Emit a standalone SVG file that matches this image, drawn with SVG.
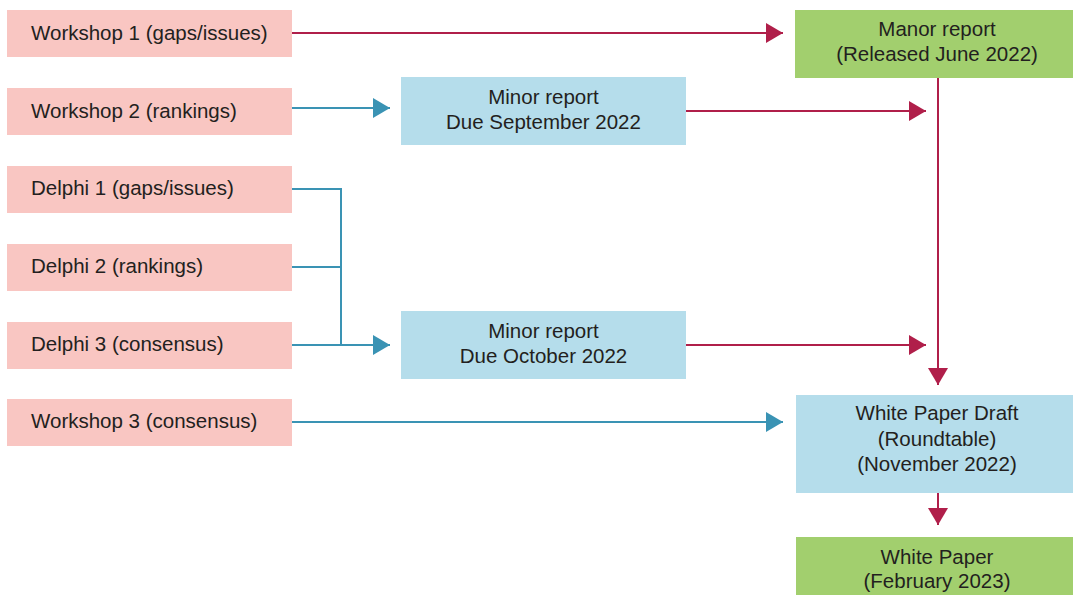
<svg xmlns="http://www.w3.org/2000/svg" width="1073" height="595" viewBox="0 0 1073 595">
<style>
.pink{fill:#F9C6C2}
.green{fill:#A2CF6E}
.blue{fill:#B5DDEB}
text{font-family:"Liberation Sans",Arial,sans-serif;font-size:20.5px;fill:#231F20}
.c{text-anchor:middle}
.r{stroke:#B01F4A;stroke-width:2;fill:none}
.b{stroke:#3A93B4;stroke-width:2;fill:none}
</style>
<defs>
<marker id="ar" markerUnits="userSpaceOnUse" markerWidth="18" markerHeight="22" refX="17" refY="10" orient="auto"><path d="M0,0 L17,10 L0,20 Z" fill="#B01F4A"/></marker>
<marker id="ab" markerUnits="userSpaceOnUse" markerWidth="18" markerHeight="22" refX="17" refY="10" orient="auto"><path d="M0,0 L17,10 L0,20 Z" fill="#3A93B4"/></marker>
</defs>
<g id="workshop1"><rect class="pink" x="7" y="10" width="285" height="47"/><text x="31" y="40">Workshop 1 (gaps/issues)</text></g>
<g id="workshop2"><rect class="pink" x="7" y="88" width="285" height="47"/><text x="31" y="118">Workshop 2 (rankings)</text></g>
<g id="delphi1"><rect class="pink" x="7" y="166" width="285" height="47"/><text x="31" y="195">Delphi 1 (gaps/issues)</text></g>
<g id="delphi2"><rect class="pink" x="7" y="244" width="285" height="47"/><text x="31" y="273">Delphi 2 (rankings)</text></g>
<g id="delphi3"><rect class="pink" x="7" y="322" width="285" height="47"/><text x="31" y="351">Delphi 3 (consensus)</text></g>
<g id="workshop3"><rect class="pink" x="7" y="399" width="285" height="47"/><text x="31" y="428">Workshop 3 (consensus)</text></g>
<g id="minor1"><rect class="blue" x="401" y="77" width="285" height="68"/><text class="c" x="543.5" y="104">Minor report</text><text class="c" x="543.5" y="129">Due September 2022</text></g>
<g id="minor2"><rect class="blue" x="401" y="311" width="285" height="68"/><text class="c" x="543.5" y="338">Minor report</text><text class="c" x="543.5" y="363">Due October 2022</text></g>
<g id="manor"><rect class="green" x="795" y="10" width="278" height="68"/><text class="c" x="937" y="36">Manor report</text><text class="c" x="937" y="61">(Released June 2022)</text></g>
<g id="draft"><rect class="blue" x="796" y="395" width="277" height="98"/><text class="c" x="937" y="420">White Paper Draft</text><text class="c" x="937" y="446">(Roundtable)</text><text class="c" x="937" y="471">(November 2022)</text></g>
<g id="whitepaper"><rect class="green" x="796" y="537" width="277" height="58"/><text class="c" x="937" y="564">White Paper</text><text class="c" x="937" y="588">(February 2023)</text></g>
<g id="connectors">
<line class="r" x1="292" y1="33" x2="783" y2="33" marker-end="url(#ar)"/>
<line class="b" x1="292" y1="108" x2="390" y2="108" marker-end="url(#ab)"/>
<line class="r" x1="686" y1="111" x2="926" y2="111" marker-end="url(#ar)"/>
<line class="r" x1="938" y1="78" x2="938" y2="385" marker-end="url(#ar)"/>
<path class="b" d="M292,189 H341 V345 M292,267 H341"/>
<line class="b" x1="292" y1="345" x2="390" y2="345" marker-end="url(#ab)"/>
<line class="r" x1="686" y1="345" x2="926" y2="345" marker-end="url(#ar)"/>
<line class="b" x1="292" y1="422" x2="783" y2="422" marker-end="url(#ab)"/>
<line class="r" x1="938" y1="493" x2="938" y2="525" marker-end="url(#ar)"/>
</g>
</svg>
